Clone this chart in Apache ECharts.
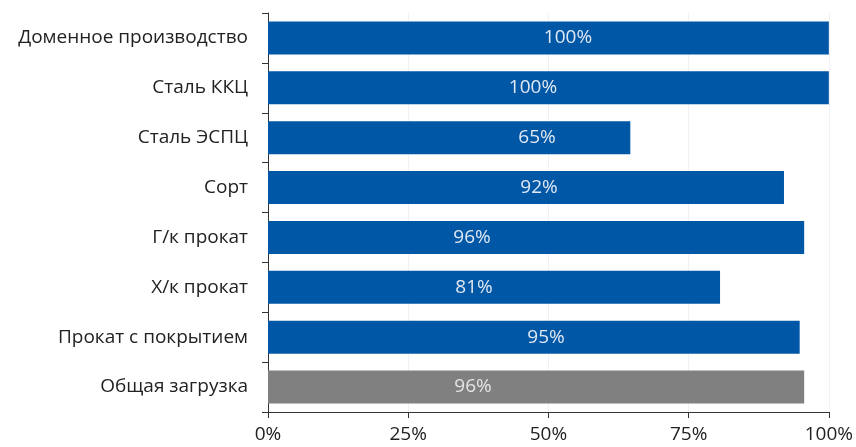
<!DOCTYPE html>
<html>
<head>
<meta charset="utf-8">
<script src="https://cdn.jsdelivr.net/npm/echarts@6/dist/echarts.min.js"></script>
<style>
html,body{margin:0;padding:0;background:#fff;}
#c{width:856px;height:447px;}
</style>
</head>
<body>
<div id="c"></div>
<script>
var categories = ["Доменное производство", "Сталь ККЦ", "Сталь ЭСПЦ", "Сорт", "Г/к прокат", "Х/к прокат", "Прокат с покрытием", "Общая загрузка"];
var values = [100, 100, 64.6, 92, 95.6, 80.6, 94.8, 95.6];
var xTicks = [0, 25, 50, 75, 100];

// styling: label x offset inside each bar (px from bar start)
var labelOffsets = [300, 265, 269, 271, 204, 206, 278, 205];
var barColors = ["#0057A6", "#0057A6", "#0057A6", "#0057A6", "#0057A6", "#0057A6", "#0057A6", "#808080"];
var labelColors = ["#dfe8f3", "#dfe8f3", "#dfe8f3", "#dfe8f3", "#dfe8f3", "#dfe8f3", "#dfe8f3", "#e4e4e4"];

var chart = echarts.init(document.getElementById('c'), null, {renderer: 'canvas'});
var font = '"Open Sans", "Noto Sans", sans-serif';
var fs = 19;

var seriesData = values.map(function (v, i) {
  return {
    value: v,
    itemStyle: {color: barColors[i]},
    label: {
      position: [labelOffsets[i], '50%'],
      align: 'center',
      verticalAlign: 'middle',
      color: labelColors[i]
    }
  };
});

chart.setOption({
  animation: false,
  grid: {left: 268, right: 26, top: 13, bottom: 35, containLabel: false},
  xAxis: {
    type: 'value',
    min: xTicks[0],
    max: xTicks[xTicks.length - 1],
    interval: 25,
    axisLine: {show: true, lineStyle: {color: '#333', width: 1}},
    axisTick: {show: true, length: 6, lineStyle: {color: '#333'}},
    axisLabel: {
      color: '#222', fontSize: fs, fontFamily: font, margin: 13,
      formatter: function (v) { return v + '%'; }
    },
    splitLine: {show: true, lineStyle: {color: '#eef2f6', width: 1}}
  },
  yAxis: {
    type: 'category',
    data: categories,
    inverse: true,
    axisLine: {show: true, lineStyle: {color: '#333', width: 1}},
    axisTick: {show: true, length: 6, lineStyle: {color: '#333'}},
    axisLabel: {color: '#222', fontSize: fs, fontFamily: font, margin: 20},
    splitLine: {show: false}
  },
  series: [{
    type: 'bar',
    data: seriesData,
    barCategoryGap: '34%',
    label: {
      show: true,
      fontSize: fs,
      fontFamily: font,
      formatter: function (p) { return Math.round(p.value) + '%'; }
    }
  }]
});
</script>
</body>
</html>
